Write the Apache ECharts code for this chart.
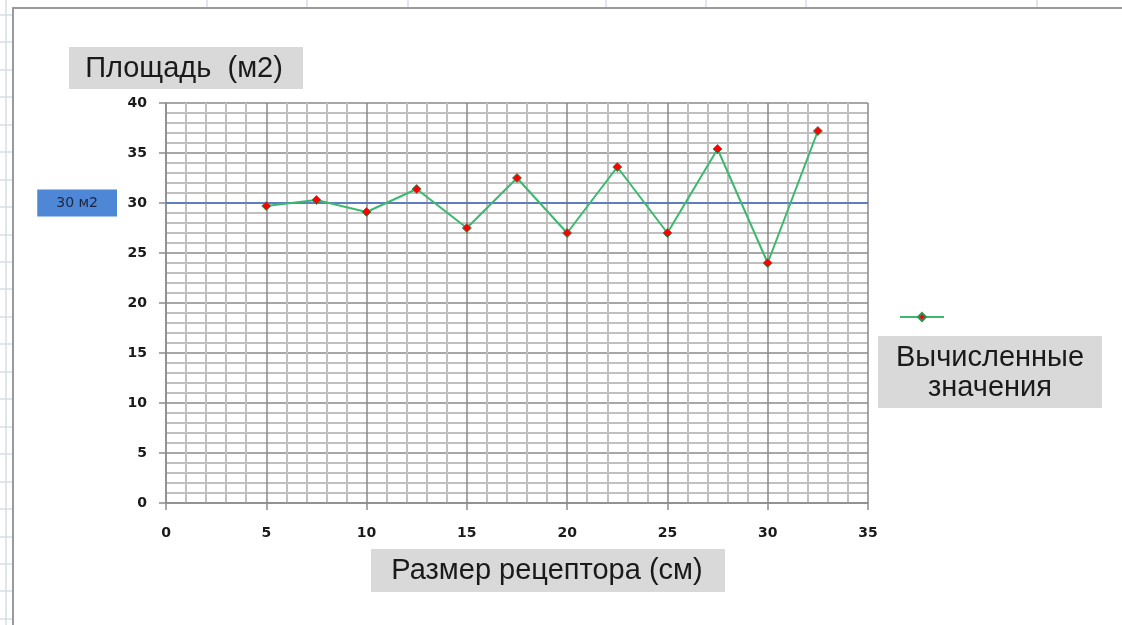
<!DOCTYPE html>
<html>
<head>
<meta charset="utf-8">
<script src="https://cdn.jsdelivr.net/npm/echarts@6/dist/echarts.min.js"></script>
<style>
  html, body { margin: 0; padding: 0; background: #ffffff; }
  #chart { width: 1122px; height: 625px; }
</style>
</head>
<body>
<div id="chart"></div>
<script>
// Receptor size (cm) and the computed area (m2) for each size
const receptorSize = [5, 7.5, 10, 12.5, 15, 17.5, 20, 22.5, 25, 27.5, 30, 32.5];
const computedArea = [29.7, 30.3, 29.1, 31.4, 27.5, 32.5, 27.0, 33.6, 27.0, 35.4, 24.0, 37.2];

// Reference level
const referenceArea = 30;
const referenceLabel = '30 м2';

// Axis ranges: [min, max, interval]
const xRange = [0, 35, 5];
const yRange = [0, 40, 5];

// Texts
const yTitle = 'Площадь  (м2)';
const xTitle = 'Размер рецептора (см)';
const seriesName = 'Вычисленные значения';
const legendLines = ['Вычисленные', 'значения'];

const TEXT_FONT = '"Liberation Sans", Arial, sans-serif';
const TICK_FONT = '"DejaVu Sans", Verdana, sans-serif';
const SHEET_LINE = '#d6dce8';

// Faint worksheet cell lines around the chart frame
const sheetLines = [];
[6, 207, 307, 408, 606, 706, 806, 1037].forEach(function (x, i) {
  sheetLines.push({
    type: 'line', silent: true,
    shape: { x1: x, y1: 0, x2: x, y2: i === 0 ? 625 : 7 },
    style: { stroke: SHEET_LINE, lineWidth: 1.5 }
  });
});
for (let y = 15; y < 625; y += 27.45) {
  sheetLines.push({
    type: 'line', silent: true,
    shape: { x1: 0, y1: Math.round(y), x2: 12, y2: Math.round(y) },
    style: { stroke: SHEET_LINE, lineWidth: 1.5 }
  });
}

function titleBox(x, y, w, h, text, cx, cy, lineHeight) {
  return [
    { type: 'rect', silent: true, shape: { x: x, y: y, width: w, height: h },
      style: { fill: '#d9d9d9' } },
    { type: 'text', silent: true,
      style: { x: cx, y: cy, text: text, fill: '#1a1a1a',
        fontSize: 29, fontFamily: TEXT_FONT, lineHeight: lineHeight || 30,
        align: 'center', verticalAlign: 'middle' } }
  ];
}

const chart = echarts.init(document.getElementById('chart'), null, { renderer: 'canvas' });

chart.setOption({
  backgroundColor: '#ffffff',
  animation: false,
  grid: { left: 166, top: 103, right: 254, bottom: 122, containLabel: false },
  legend: {
    left: 894, top: 307,
    itemWidth: 44, itemHeight: 10,
    formatter: function () { return ''; },
    data: [seriesName],
    selectedMode: false
  },
  xAxis: {
    type: 'value',
    min: xRange[0], max: xRange[1], interval: xRange[2],
    axisLine: { show: true, onZero: false, lineStyle: { color: '#8c8c8c', width: 1.5 } },
    axisTick: { show: true, length: 7, lineStyle: { color: '#8c8c8c', width: 1.5 } },
    minorTick: { show: true, splitNumber: 5, length: 0, lineStyle: { opacity: 0 } },
    axisLabel: { margin: 23, color: '#1a1a1a', fontSize: 14, fontWeight: 'bold', fontFamily: TICK_FONT },
    splitLine: { show: true, lineStyle: { color: '#8a8a8a', width: 1.5 } },
    minorSplitLine: { show: true, lineStyle: { color: '#c0c0c0', width: 2 } }
  },
  yAxis: {
    type: 'value',
    min: yRange[0], max: yRange[1], interval: yRange[2],
    axisLine: { show: true, lineStyle: { color: '#8c8c8c', width: 1.5 } },
    axisTick: { show: true, length: 7, lineStyle: { color: '#8c8c8c', width: 1.5 } },
    minorTick: { show: true, splitNumber: 5, length: 0, lineStyle: { opacity: 0 } },
    axisLabel: { margin: 19, color: '#1a1a1a', fontSize: 14, fontWeight: 'bold', fontFamily: TICK_FONT },
    splitLine: { show: true, lineStyle: { color: '#8a8a8a', width: 1.5 } },
    minorSplitLine: { show: true, lineStyle: { color: '#c0c0c0', width: 2 } }
  },
  series: [{
    name: seriesName,
    type: 'line',
    data: receptorSize.map(function (x, i) { return [x, computedArea[i]]; }),
    symbol: 'diamond',
    symbolSize: 9,
    lineStyle: { color: '#3cb96f', width: 2 },
    itemStyle: { color: '#ff0000', borderColor: '#2f8f55', borderWidth: 1 },
    z: 5,
    markLine: {
      silent: true,
      symbol: ['none', 'none'],
      lineStyle: { color: '#4472c4', width: 1.5, type: 'solid' },
      label: {
        show: true,
        position: 'start',
        distance: 49,
        formatter: referenceLabel,
        backgroundColor: '#4d87d5',
        color: '#1d2440',
        fontSize: 14,
        fontFamily: TICK_FONT,
        padding: [7, 19, 6, 19]
      },
      data: [{ yAxis: referenceArea }]
    }
  }],
  graphic: sheetLines.concat([
    // chart frame (top and left edges)
    { type: 'polyline', silent: true,
      shape: { points: [[13, 625], [13, 8], [1122, 8]] },
      style: { stroke: '#9a9a9a', lineWidth: 2, fill: null } }
  ]).concat(
    titleBox(69, 47, 234, 42, yTitle, 184, 69),
    titleBox(371, 549, 354, 43, xTitle, 547, 571),
    titleBox(878, 336, 224, 72, legendLines.join('\n'), 990, 373, 30)
  )
});
</script>
</body>
</html>
